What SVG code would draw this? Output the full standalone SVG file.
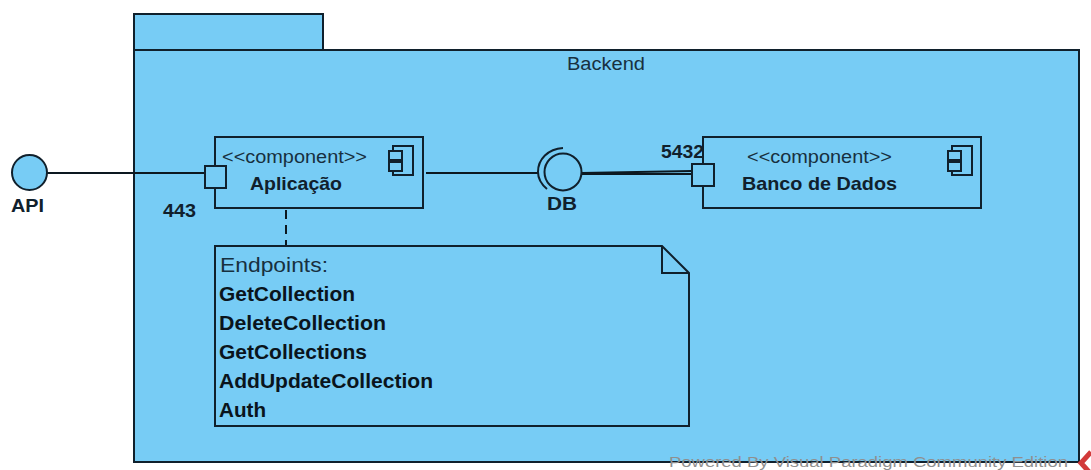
<svg xmlns="http://www.w3.org/2000/svg" width="1091" height="470" viewBox="0 0 1091 470">
<style>
.s{fill:#77ccf5;stroke:#10202c;stroke-width:2}
.f{fill:none;stroke:#10202c;stroke-width:2}
.c{fill:none;stroke:#0c1820;stroke-width:2}
text{font-family:"Liberation Sans",Arial,sans-serif;fill:#17303f}
.r{font-size:18px}
.b{font-size:20px;font-weight:bold;fill:#0a141c}
.t{font-size:18.500px;font-weight:bold;fill:#10202c}
</style>
<defs>
<g id="icon"><rect class="s" x="4" y="0" width="20" height="29"/><rect class="s" x="0" y="5" width="13" height="9"/><rect class="s" x="0" y="16" width="13" height="9"/></g>
</defs>
<rect width="1091" height="470" fill="#fff"/>
<g id="backend">
<rect class="s" x="134" y="14" width="189" height="37"/>
<rect class="s" x="134" y="50" width="945" height="412"/>
<text class="r" x="567" y="70" textLength="78" lengthAdjust="spacingAndGlyphs">Backend</text>
</g>
<g id="connectors">
<path class="c" d="M47 173H205"/>
<path class="c" d="M426 173H538"/>
<path class="c" d="M582 173L692 171M582 174L692 174"/>
<path class="c" d="M286 210V246" stroke-dasharray="9 6"/>
</g>
<g id="api">
<circle class="s" cx="29.500" cy="172.500" r="17.500"/>
<text class="t" x="11" y="212" textLength="33" lengthAdjust="spacingAndGlyphs">API</text>
</g>
<g id="aplicacao">
<rect class="s" x="215" y="137" width="208" height="71"/>
<rect class="s" x="205" y="166" width="21" height="22"/>
<text class="r" x="222" y="163" textLength="145" lengthAdjust="spacingAndGlyphs">&lt;&lt;component&gt;&gt;</text>
<text class="t" x="250" y="190" textLength="92" lengthAdjust="spacingAndGlyphs">Aplicação</text>
<use href="#icon" x="389" y="146"/>
<text class="t" x="163" y="217" textLength="33" lengthAdjust="spacingAndGlyphs">443</text>
</g>
<g id="db">
<path class="f" d="M563 148C548 149 538 159 538 172C538 179 541 184 547 189"/>
<circle class="s" cx="563" cy="172" r="18.500"/>
<text class="t" x="547" y="210" textLength="30" lengthAdjust="spacingAndGlyphs">DB</text>
</g>
<g id="banco">
<rect class="s" x="703" y="137" width="278" height="71"/>
<rect class="s" x="692" y="164" width="22" height="22"/>
<text class="r" x="747" y="163" textLength="145" lengthAdjust="spacingAndGlyphs">&lt;&lt;component&gt;&gt;</text>
<text class="t" x="742" y="190" textLength="155" lengthAdjust="spacingAndGlyphs">Banco de Dados</text>
<use href="#icon" x="948" y="146"/>
<text class="t" x="661" y="158" textLength="43" lengthAdjust="spacingAndGlyphs">5432</text>
</g>
<g id="note">
<path class="s" d="M215 246H662L689 273V426H215Z"/>
<path class="f" d="M662 246V273H689"/>
<text x="220" y="272" font-size="20" textLength="108" lengthAdjust="spacingAndGlyphs">Endpoints:</text>
<text class="b" x="219" y="301" textLength="136" lengthAdjust="spacingAndGlyphs">GetCollection</text>
<text class="b" x="219" y="330" textLength="167" lengthAdjust="spacingAndGlyphs">DeleteCollection</text>
<text class="b" x="219" y="359" textLength="148" lengthAdjust="spacingAndGlyphs">GetCollections</text>
<text class="b" x="219" y="388" textLength="214" lengthAdjust="spacingAndGlyphs">AddUpdateCollection</text>
<text class="b" x="219" y="417" textLength="47" lengthAdjust="spacingAndGlyphs">Auth</text>
</g>
<g id="watermark">
<text x="669" y="466.500" font-size="14" textLength="399" lengthAdjust="spacingAndGlyphs" style="fill:#8f8f8f">Powered By Visual Paradigm Community Edition</text>
<path d="M1091 452L1081 463L1091 474" fill="none" stroke="#d23a3a" stroke-width="5"/>
</g>
</svg>
